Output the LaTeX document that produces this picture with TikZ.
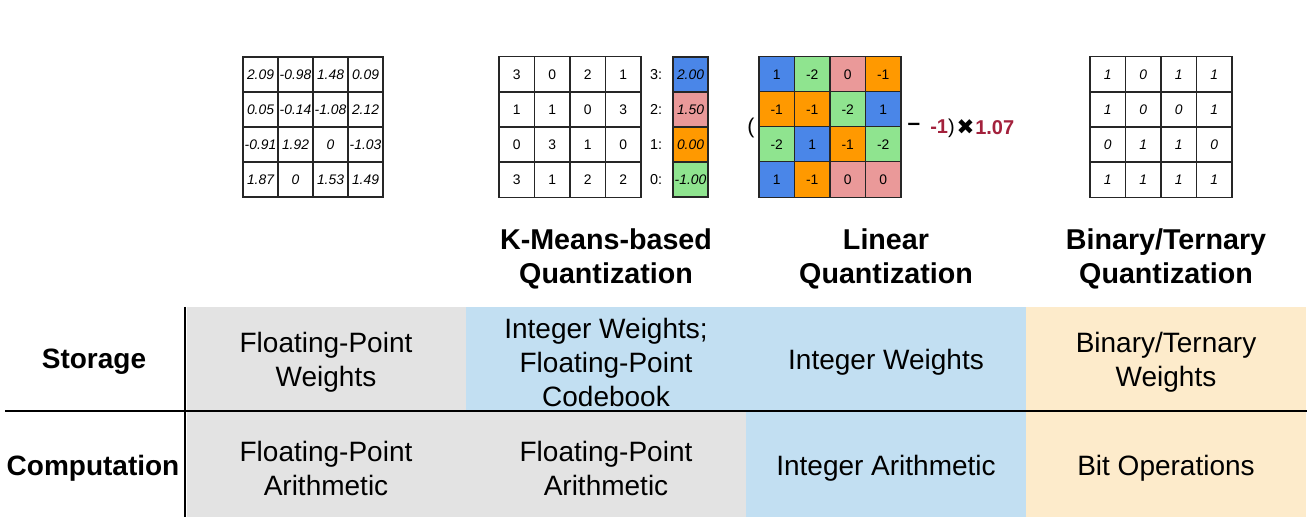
\documentclass[tikz,border=0pt]{standalone}
\usepackage{fontspec}
\setmainfont{Liberation Sans}
\newfontfamily\symfont{DejaVu Sans}
\definecolor{qb}{HTML}{4A86E8}
\definecolor{qp}{HTML}{EA9999}
\definecolor{qo}{HTML}{FF9900}
\definecolor{qg}{HTML}{8FE48F}
\definecolor{qred}{HTML}{A3213C}
\definecolor{tgray}{HTML}{E3E3E3}
\definecolor{tblue}{HTML}{C2DFF2}
\definecolor{tbeige}{HTML}{FDEBCB}
\begin{document}
\begin{tikzpicture}[x=0.75pt,y=-0.75pt,
  cell/.style={draw=black!85, line width=1pt, minimum size=26.6pt, inner sep=0pt,
    font=\fontsize{10.4}{12}\selectfont},
  head/.style={align=center, font=\fontsize{21.5}{25}\selectfont\bfseries},
  tabtext/.style={align=center, font=\fontsize{21}{25.5}\selectfont},
  rowhead/.style={font=\fontsize{21}{25.5}\selectfont\bfseries},
  rule/.style={line width=1.6pt, black}]
\useasboundingbox (0,0) rectangle (1314,530);

% floating-point weight matrix
\foreach \row [count=\r] in {{2.09,-0.98,1.48,0.09},{0.05,-0.14,-1.08,2.12},{-0.91,1.92,0,-1.03},{1.87,0,1.53,1.49}}{
  \foreach \v [count=\c] in \row {
    \node[cell, minimum size=26.25pt, font=\fontsize{10.4}{12}\selectfont\itshape]
      (fp-\r-\c) at ({243+35*\c-17.5},{57+35*\r-17.5}) {\v};
  }
}

% k-means cluster indices
\foreach \row [count=\r] in {{3,0,2,1},{1,1,0,3},{0,3,1,0},{3,1,2,2}}{
  \foreach \v [count=\c] in \row {
    \node[cell] (km-\r-\c) at ({499+35.5*\c-17.75},{57+35*\r-17.5}) {\v};
  }
}
% codebook
\foreach \lab/\val/\col [count=\r] in {3/2.00/qb,2/1.50/qp,1/0.00/qo,0/-1.00/qg}{
  \node[font=\fontsize{10.8}{12}\selectfont] (cbl-\r) at (656,{57+35*\r-17.5}) {\lab:};
  \node[cell, fill=\col, minimum width=26.25pt, minimum height=26.25pt,
    font=\fontsize{10.4}{12}\selectfont\itshape] (cb-\r) at (690.5,{57+35*\r-17.5}) {\val};
}

% linear quantized matrix
\foreach \row [count=\r] in {{1/qb,-2/qg,0/qp,-1/qo},{-1/qo,-1/qo,-2/qg,1/qb},{-2/qg,1/qb,-1/qo,-2/qg},{1/qb,-1/qo,0/qp,0/qp}}{
  \foreach \v/\col [count=\c] in \row {
    \node[cell, fill=\col] (lq-\r-\c) at ({759+35.5*\c-17.75},{57+35*\r-17.5}) {\v};
  }
}
\node[inner sep=0pt, font=\fontsize{16}{18}\selectfont] (lpar) at (751,128) {(};
\node[font=\fontsize{17}{18}\selectfont\bfseries] (lminus) at (914,127) {–};
\node[anchor=west, inner sep=0pt, font=\fontsize{15}{17}\selectfont] (lzero) at (930,128)
  {\textcolor{qred}{\bfseries -1})};
\node[font=\fontsize{16}{18}\selectfont\symfont] (ltimes) at (965.5,127) {✖};
\node[anchor=west, inner sep=0pt, font=\fontsize{15}{17}\selectfont\bfseries, text=qred] (lscale) at (975,128) {1.07};

% binary weight matrix
\foreach \row [count=\r] in {{1,0,1,1},{1,0,0,1},{0,1,1,0},{1,1,1,1}}{
  \foreach \v [count=\c] in \row {
    \node[cell, font=\fontsize{10.4}{12}\selectfont\itshape] (bw-\r-\c) at ({1090+35.5*\c-17.75},{57+35*\r-17.5}) {\v};
  }
}

% method headings
\node[head] (hkm) at (606,259) {K-Means-based\\Quantization};
\node[head] (hlin) at (886,259) {Linear\\Quantization};
\node[head] (hbin) at (1166,259) {Binary/Ternary\\Quantization};

% comparison table backgrounds
\fill[tgray] (187,307) rectangle (466,411);
\fill[tgray] (187,411) rectangle (746,517);
\fill[tblue] (466,307) rectangle (1026,411);
\fill[tblue] (746,411) rectangle (1026,517);
\fill[tbeige] (1026,307) rectangle (1306,517);
\draw[rule] (185,307) -- (185,517);
\draw[rule] (5,411) -- (1307,411);

% row headings
\node[rowhead] (rstore) at (94,362) {Storage};
\node[rowhead] (rcomp) at (93,468) {Computation};

% storage row
\node[tabtext] (s1) at (326,362) {Floating-Point\\Weights};
\node[tabtext] (s2) at (606,362) {Integer Weights;\\Floating-Point\\Codebook};
\node[tabtext] (s3) at (886,362) {Integer Weights};
\node[tabtext] (s4) at (1166,362) {Binary/Ternary\\Weights};

% computation row
\node[tabtext] (c1) at (326,468) {Floating-Point\\Arithmetic};
\node[tabtext] (c2) at (606,468) {Floating-Point\\Arithmetic};
\node[tabtext] (c3) at (886,468) {Integer Arithmetic};
\node[tabtext] (c4) at (1166,468) {Bit Operations};
\end{tikzpicture}
\end{document}
